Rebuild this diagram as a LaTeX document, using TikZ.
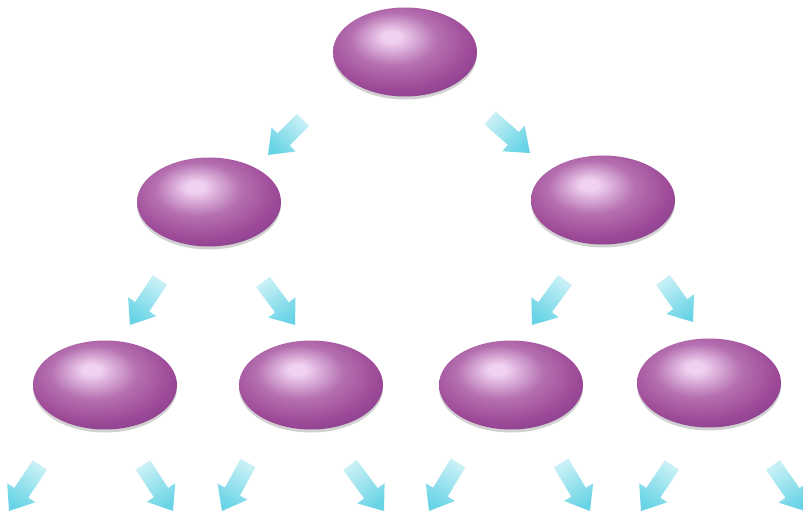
\documentclass[tikz,border=0pt]{standalone}
\usetikzlibrary{shapes.geometric,shadows}
\definecolor{eggHi}{RGB}{240,210,240}
\definecolor{eggMid}{RGB}{158,74,152}
\definecolor{eggDeep}{RGB}{120,58,135}
\definecolor{eggDark}{RGB}{75,30,88}
\definecolor{arrCyan}{RGB}{105,212,230}
\definecolor{arrLight}{RGB}{200,240,246}
\pgfdeclareradialshading{eggshade}{\pgfpoint{-5bp}{9bp}}{%
  color(0bp)=(eggHi); color(3bp)=(eggHi); color(15bp)=(eggMid!72!eggHi);
  color(26bp)=(eggMid); color(38bp)=(eggDeep); color(47bp)=(eggDeep!85!black);
  color(54bp)=(eggDark); color(70bp)=(eggDark)}
\tikzset{
  egg/.style={ellipse, inner sep=0pt, minimum width=144pt, minimum height=89pt,
    shading=eggshade, draw=none,
    drop shadow={shadow xshift=0pt, shadow yshift=-3pt, fill=gray!45, opacity=0.8}},
  barrowshade/.style={draw=none}
}
% \barrow{name}{tail x}{tail y}{head x}{head y}
\newcommand\barrow[5]{%
  \coordinate (#1-t) at (#2,#3);
  \coordinate (#1-h) at (#4,#5);
  \pgfmathsetmacro\bang{atan2(#3-#5,#4-#2)}%
  \pgfmathsetmacro\blen{veclen(#4-#2,#5-#3)}%
  \pgfmathsetmacro\bneck{\blen-22}%
  \pgfmathsetmacro\bsh{\bang-90}%
  \shade[barrowshade, top color=arrCyan, bottom color=arrLight, shading angle=\bsh,
     shift={(#1-t)}, rotate=\bang]
     (0,-8.5) -- (\bneck,-8.5) -- (\bneck,-17) -- (\blen,0) -- (\bneck,17) -- (\bneck,8.5) -- (0,8.5) -- cycle;
}
\begin{document}
\begin{tikzpicture}[x=1pt,y=-1pt]
\useasboundingbox (0,0) rectangle (803,513);
\fill[white] (0,0) rectangle (803,513);
% eggs
\node[egg] (n0) at (405,52) {};
\node[egg] (n1) at (209,202) {};
\node[egg] (n2) at (603,200) {};
\node[egg] (n3) at (105,385) {};
\node[egg] (n4) at (311,385) {};
\node[egg] (n5) at (511,385) {};
\node[egg] (n6) at (709,383) {};
% arrows
\barrow{a1}{303}{120}{268}{155}
\barrow{a2}{490}{118}{530}{153}
\barrow{a3}{160}{280}{130}{325}
\barrow{a4}{263}{282}{295}{325}
\barrow{a5}{565}{280}{532}{325}
\barrow{a6}{663}{280}{693}{322}
\barrow{a7}{40}{465}{9}{511}
\barrow{a8}{143}{465}{173}{511}
\barrow{a9}{248}{463}{222}{511}
\barrow{a10}{350}{465}{384}{511}
\barrow{a11}{458}{463}{429}{511}
\barrow{a12}{561}{463}{590}{511}
\barrow{a13}{672}{465}{641}{511}
\barrow{a14}{773}{465}{805}{511}
\end{tikzpicture}
\end{document}
